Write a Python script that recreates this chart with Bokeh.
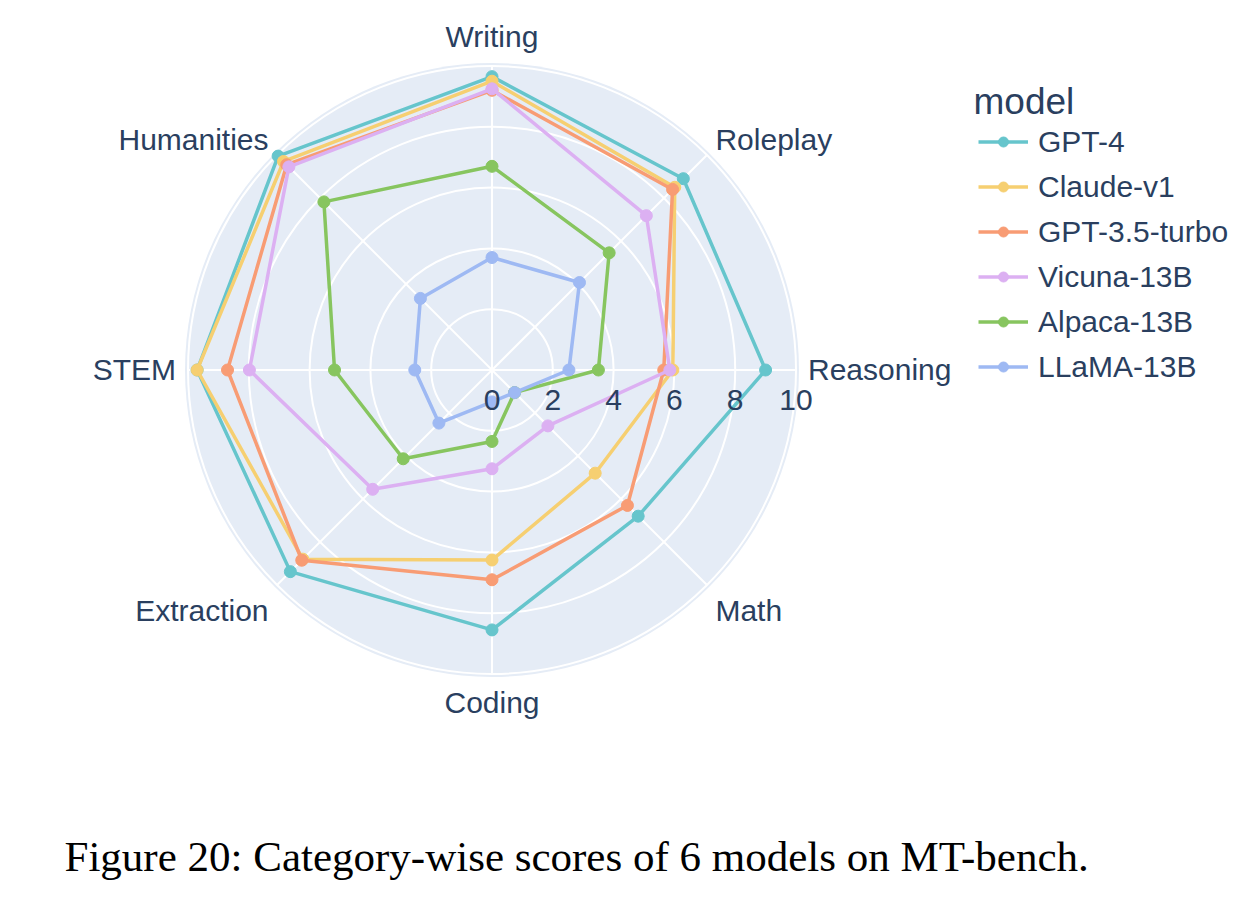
import numpy as np
from bokeh.plotting import figure
from bokeh.models import Range1d, Legend, LegendItem, Label, ColumnDataSource
from bokeh.core.properties import value
from bokeh.embed import file_html
from bokeh.resources import INLINE

# ---------------- data ----------------
categories = ["Writing", "Roleplay", "Reasoning", "Math", "Coding",
              "Extraction", "STEM", "Humanities"]
models = ["GPT-4", "Claude-v1", "GPT-3.5-turbo", "Vicuna-13B",
          "Alpaca-13B", "LLaMA-13B"]
gpt4 = [9.65, 8.90, 9.00, 6.80, 8.55, 9.38, 9.70, 9.95]
claude_v1 = [9.50, 8.50, 5.95, 4.80, 6.25, 8.80, 9.70, 9.70]
gpt35_turbo = [9.20, 8.40, 5.65, 6.30, 6.90, 8.85, 8.70, 9.55]
vicuna_13b = [9.25, 7.18, 5.85, 2.60, 3.25, 5.55, 7.98, 9.45]
alpaca_13b = [6.70, 5.45, 3.50, 1.05, 2.35, 4.13, 5.18, 7.82]
llama_13b = [3.70, 4.07, 2.53, 1.05, 1.05, 2.47, 2.54, 3.33]
series = [gpt4, claude_v1, gpt35_turbo, vicuna_13b, alpaca_13b, llama_13b]
radial_ticks = [0, 2, 4, 6, 8, 10]
legend_title = "model"
caption = "Figure 20: Category-wise scores of 6 models on MT-bench."

# ---------------- style ----------------
colors = ["#66C5CC", "#F6CF71", "#F89C74", "#DCB0F2", "#87C55F", "#9EB9F3"]
BG = "#E5ECF6"
TXT = "#2a3f5f"
FONT_NAME = "Liberation Sans"
FONT = value(FONT_NAME)

W, H = 1250, 900
S = 30.4                 # pixels per radial unit
CX, CY = 491.5, 369.5    # pole position in frame pixels (from top-left)
RMAX = radial_ticks[-1]

p = figure(width=W, height=H, output_backend="svg", toolbar_location=None,
           x_range=Range1d(-CX / S, (W - CX) / S),
           y_range=Range1d(-(H - CY) / S, CY / S),
           x_axis_location=None, y_axis_location=None,
           min_border=0, outline_line_color=None,
           background_fill_color="white", border_fill_color="white")
p.xgrid.visible = False
p.ygrid.visible = False

n = len(categories)
theta = np.deg2rad(90.0 - 360.0 / n * np.arange(n))

# polar background
p.circle(x=[0], y=[0], radius=RMAX + 3 / S, fill_color=BG, line_color=None)
# radial grid circles
rings = [r for r in radial_ticks if r > 0]
p.circle(x=[0] * len(rings), y=[0] * len(rings), radius=rings,
         fill_color=None, line_color="white", line_width=2)
# angular grid spokes
p.segment(x0=np.zeros(n), y0=np.zeros(n),
          x1=RMAX * np.cos(theta), y1=RMAX * np.sin(theta),
          line_color="white", line_width=2)

# traces
items = []
for name, col, vals in zip(models, colors, series):
    v = np.asarray(vals, dtype=float)
    xs = v * np.cos(theta)
    ys = v * np.sin(theta)
    lr = p.line(np.append(xs, xs[0]), np.append(ys, ys[0]),
                line_color=col, line_width=3.5, line_join="round")
    sr = p.scatter(xs, ys, size=12, fill_color=col, line_color=col)
    items.append(LegendItem(label=name, renderers=[lr, sr]))

# radial tick labels
tick_src = ColumnDataSource(dict(x=radial_ticks, y=[0] * len(radial_ticks),
                                 t=[str(t) for t in radial_ticks]))
p.text(x="x", y="y", text="t", source=tick_src, y_offset=30,
       text_align="center", text_baseline="middle",
       text_font=FONT, text_font_size="30px", text_color=TXT)

# angular (category) labels
R_EDGE = (RMAX * S + 12) / S
cx = R_EDGE * np.cos(theta)
cy = R_EDGE * np.sin(theta) + (17 * np.sin(theta) + 1
                               - 12 * np.abs(np.sin(theta) * np.cos(theta))) / S
aligns = np.where(np.cos(theta) > 0.1, "left",
                  np.where(np.cos(theta) < -0.1, "right", "center"))
for al in ["left", "center", "right"]:
    m = aligns == al
    src = ColumnDataSource(dict(x=cx[m], y=cy[m],
                                t=[c for c, k in zip(categories, m) if k]))
    p.text(x="x", y="y", text="t", source=src, text_align=al,
           text_baseline="middle", text_font=FONT, text_font_size="30px",
           text_color=TXT)

legend = Legend(items=items, location=(978, H - 389),
                label_text_font=FONT_NAME, label_text_font_size="30px",
                label_text_color=TXT, glyph_width=50, glyph_height=25,
                label_height=45, spacing=0, padding=0, margin=0,
                label_standoff=10,
                border_line_alpha=0, background_fill_alpha=0)
p.add_layout(legend)

p.add_layout(Label(x=973, y=H - 101, x_units="screen", y_units="screen",
                   text=legend_title, text_font=FONT_NAME,
                   text_font_size="37px", text_color=TXT,
                   text_baseline="middle", text_align="left"))

p.add_layout(Label(x=64, y=H - 856, x_units="screen", y_units="screen",
                   text=caption, text_font="Liberation Serif",
                   text_font_size="43px", text_color="black",
                   text_baseline="middle", text_align="left"))

open("out.html", "w").write(file_html(p, INLINE))
